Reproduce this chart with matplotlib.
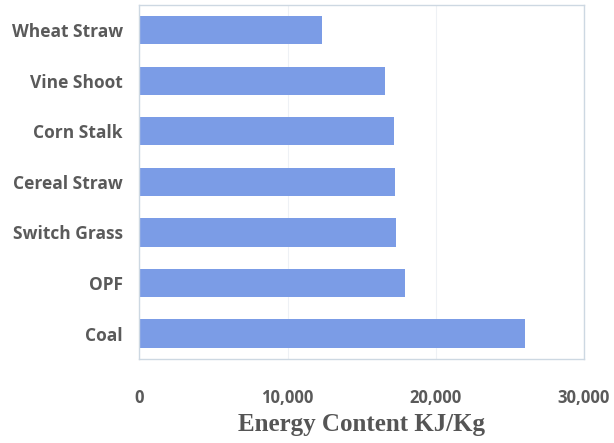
import matplotlib.pyplot as plt
from matplotlib.ticker import FuncFormatter

fuels = ["Wheat Straw", "Vine Shoot", "Corn Stalk", "Cereal Straw",
         "Switch Grass", "OPF", "Coal"]
energy = [12350, 16550, 17200, 17250, 17300, 17900, 26050]
x_ticks = [0, 10000, 20000, 30000]

fig = plt.figure(figsize=(6.14, 4.43), dpi=100)
ax = fig.add_axes([0.227, 0.190, 0.724, 0.799])

pos = list(range(len(fuels)))
ax.barh(pos, energy, height=0.56, color="#7b9ce6", zorder=2)
ax.set_ylim(len(fuels) - 0.5, -0.5)
ax.set_xlim(0, 30000)
ax.set_yticks(pos)
ax.set_yticklabels(fuels, fontfamily="Open Sans", fontweight="bold",
                   fontsize=12.5, color="#5a5a5a")
ax.set_xticks(x_ticks)
ax.xaxis.set_major_formatter(FuncFormatter(lambda v, p: f"{int(v):,}"))
for lab in ax.get_xticklabels():
    lab.set_fontfamily("Open Sans")
    lab.set_fontweight("bold")
    lab.set_fontsize(12)
    lab.set_color("#5a5a5a")
ax.tick_params(axis="both", length=0)
ax.tick_params(axis="y", pad=12)
ax.tick_params(axis="x", pad=22)

ax.grid(axis="x", color="#eef1f5", linewidth=0.8, zorder=0)
for s in ax.spines.values():
    s.set_color("#cdd8e2")
    s.set_linewidth(1.0)

ax.set_xlabel("Energy Content KJ/Kg", fontfamily="Liberation Serif",
              fontweight="bold", fontsize=18, color="#555555", labelpad=4)

fig.savefig("out.png", dpi=100)
